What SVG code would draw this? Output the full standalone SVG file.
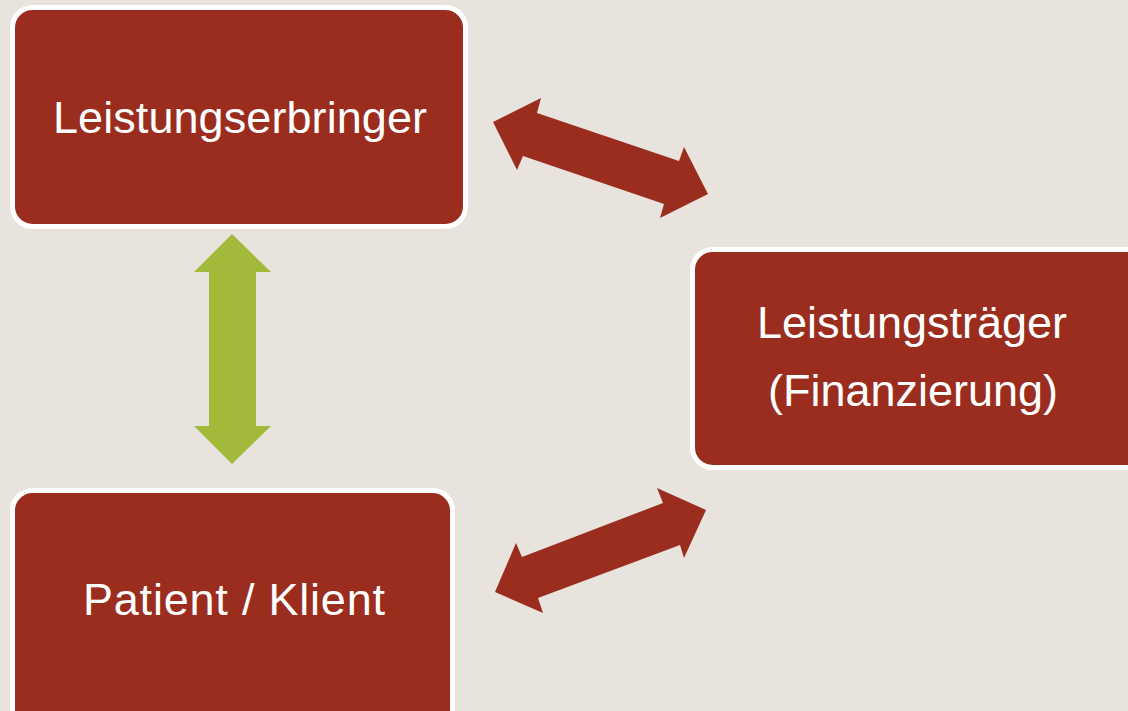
<svg xmlns="http://www.w3.org/2000/svg" width="1128" height="711" viewBox="0 0 1128 711">
  <style>
    .box { fill: #9B2D1F; stroke: #FFFFFF; stroke-width: 5; }
    .label { fill: #FFFFFF; font-family: "Liberation Sans", Arial, sans-serif; font-size: 45px; text-anchor: middle; }
    .link { fill: #9B2D1F; }
    .link-green { fill: #A3B93A; }
  </style>
  <rect width="1128" height="711" fill="#E8E4DD"/>

  <g id="leistungserbringer">
    <rect class="box" x="12.5" y="7.5" width="453" height="219" rx="20"/>
    <text class="label" x="240" y="133" textLength="374">Leistungserbringer</text>
  </g>

  <g id="leistungstraeger">
    <rect class="box" x="692.5" y="249.5" width="460" height="218" rx="20"/>
    <text class="label" x="912" y="338">Leistungsträger</text>
    <text class="label" x="913" y="406">(Finanzierung)</text>
  </g>

  <g id="patient">
    <rect class="box" x="12.5" y="490.5" width="440" height="240" rx="20"/>
    <text class="label" x="234" y="615" textLength="302">Patient / Klient</text>
  </g>

  <g id="connectors">
    <polygon class="link" points="493,122 541,98 537,113 679,161 684,147 708,194 660,218 664,204 523,156 517,170"/>
    <polygon class="link" points="495,592 516,543 522,557 663,503 657,488 706,510 684,558 680,545 538,598 543,613"/>
    <polygon class="link-green" points="232,234 271,272 256,272 256,426 271,426 232,464 194,426 209,426 209,272 194,272"/>
  </g>
</svg>
